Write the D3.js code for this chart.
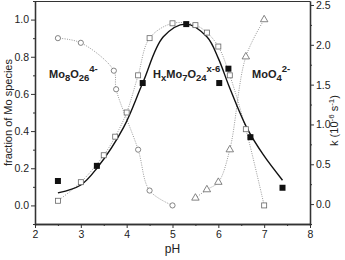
<!DOCTYPE html>
<html>
<head>
<meta charset="utf-8">
<script src="https://cdn.jsdelivr.net/npm/d3@7"></script>
<style>
  body { margin: 0; background: #fff; }
  text { font-family: "Liberation Sans", Arial, sans-serif; fill: #222; }
</style>
</head>
<body>
<div id="chart"></div>
<script>
// fraction of Mo species (left axis)
var octaPH   = [2.5, 3.0, 3.72, 3.77, 4.25, 4.5, 5.0];
var octaFrac = [0.90, 0.875, 0.725, 0.625, 0.30, 0.08, 0.0];

var heptaPH   = [2.5, 3.0, 3.5, 3.75, 4.0, 4.25, 4.5, 5.0, 5.5, 5.75, 6.0, 6.25, 6.6, 7.0];
var heptaFrac = [0.025, 0.125, 0.27, 0.37, 0.50, 0.70, 0.90, 0.98, 0.97, 0.93, 0.855, 0.70, 0.41, 0.0];

var molyPH   = [5.5, 5.75, 6.0, 6.25, 6.6, 7.0];
var molyFrac = [0.04, 0.085, 0.125, 0.30, 0.80, 1.0];

// rate constant k (right axis)
var kPH  = [2.5, 3.35, 4.35, 5.3, 6.02, 6.22, 6.7, 7.4];
var kVal = [0.29, 0.48, 1.52, 2.26, 1.52, 1.70, 0.84, 0.205];

// fitted curve
var fitPH = [2.5, 3.0, 3.35, 3.93, 4.35, 4.8, 5.29, 5.75, 6.0, 6.24, 6.62, 6.98, 7.4];
var fitK  = [0.14, 0.24, 0.45, 0.96, 1.52, 2.10, 2.26, 2.10, 1.83, 1.47, 0.96, 0.62, 0.30];

var xTicks = [2, 3, 4, 5, 6, 7, 8];
var yTicks = [0.0, 0.2, 0.4, 0.6, 0.8, 1.0];
var kTicks = [0.0, 0.5, 1.0, 1.5, 2.0, 2.5];

var W = 345, H = 260;
var m = {left: 35, right: 35, top: 1, bottom: 36};

var svg = d3.select('#chart').append('svg')
  .attr('width', W).attr('height', H);

var x = d3.scaleLinear().domain([2, 8]).range([m.left, W - m.right]);
var y = d3.scaleLinear().domain([-0.1, 1.1]).range([H - m.bottom, m.top]);
var yk = d3.scaleLinear().domain([-0.25, 2.55]).range([H - m.bottom, m.top]);

// frame top line
svg.append('line')
  .attr('x1', x(2)).attr('x2', x(8))
  .attr('y1', m.top + 0.5).attr('y2', m.top + 0.5)
  .attr('stroke', '#333').attr('stroke-width', 1);

// axes
function styleAxis(g) {
  g.selectAll('path').attr('stroke', '#333').attr('stroke-width', 1.3);
  g.selectAll('line').attr('stroke', '#333');
  g.selectAll('text').attr('font-size', 10.5).attr('fill', '#333')
    .style('font-family', '"Liberation Sans", Arial, sans-serif');
}

var xMinor = d3.range(2.5, 8, 1);
svg.append('g').attr('transform', 'translate(0,' + (H - m.bottom) + ')')
  .call(d3.axisBottom(x).tickValues(xMinor).tickSize(2).tickFormat(''))
  .call(styleAxis);
svg.append('g').attr('transform', 'translate(0,' + (H - m.bottom) + ')')
  .call(d3.axisBottom(x).tickValues(xTicks).tickSize(4).tickSizeOuter(0).tickPadding(3)
    .tickFormat(d3.format('d')))
  .call(styleAxis);

var yMinor = d3.range(-0.1, 1.1, 0.2);
svg.append('g').attr('transform', 'translate(' + m.left + ',0)')
  .call(d3.axisLeft(y).tickValues(yMinor).tickSize(2).tickFormat('').tickSizeOuter(0))
  .call(styleAxis);
svg.append('g').attr('transform', 'translate(' + m.left + ',0)')
  .call(d3.axisLeft(y).tickValues(yTicks).tickSize(4).tickSizeOuter(0).tickPadding(2)
    .tickFormat(d3.format('.1f')))
  .call(styleAxis);

var kMinor = d3.range(-0.25, 2.55, 0.5);
svg.append('g').attr('transform', 'translate(' + (W - m.right) + ',0)')
  .call(d3.axisRight(yk).tickValues(kMinor).tickSize(2).tickFormat('').tickSizeOuter(0))
  .call(styleAxis);
svg.append('g').attr('transform', 'translate(' + (W - m.right) + ',0)')
  .call(d3.axisRight(yk).tickValues(kTicks).tickSize(4).tickSizeOuter(0).tickPadding(2)
    .tickFormat(d3.format('.1f')))
  .call(styleAxis);

// dotted connecting lines
function dotted(px, py, sc) {
  var pts = px.map(function(d, i){ return [d, py[i]]; });
  svg.append('path')
    .datum(pts)
    .attr('d', d3.line().x(function(d){ return x(d[0]); }).y(function(d){ return sc(d[1]); })
      .curve(d3.curveCatmullRom.alpha(0.5)))
    .attr('fill', 'none')
    .attr('stroke', '#999')
    .attr('stroke-width', 1)
    .attr('stroke-dasharray', '1,1.3');
  return pts;
}

var octa = dotted(octaPH, octaFrac, y);
var hepta = dotted(heptaPH, heptaFrac, y);
var moly = dotted(molyPH, molyFrac, y);

// fitted curve
var fit = fitPH.map(function(d, i){ return [d, fitK[i]]; });
svg.append('path')
  .datum(fit)
  .attr('d', d3.line().x(function(d){ return x(d[0]); }).y(function(d){ return yk(d[1]); })
    .curve(d3.curveCatmullRom.alpha(0.5)))
  .attr('fill', 'none')
  .attr('stroke', '#111')
  .attr('stroke-width', 1.4);

// symbols
svg.selectAll('.octa').data(octa).enter().append('circle')
  .attr('cx', function(d){ return x(d[0]); })
  .attr('cy', function(d){ return y(d[1]); })
  .attr('r', 2.6)
  .attr('fill', '#fff').attr('stroke', '#666').attr('stroke-width', 0.8);

svg.selectAll('.hepta').data(hepta).enter().append('rect')
  .attr('x', function(d){ return x(d[0]) - 2.5; })
  .attr('y', function(d){ return y(d[1]) - 2.5; })
  .attr('width', 5).attr('height', 5)
  .attr('fill', '#fff').attr('stroke', '#666').attr('stroke-width', 0.8);

svg.selectAll('.moly').data(moly).enter().append('path')
  .attr('transform', function(d){ return 'translate(' + x(d[0]) + ',' + y(d[1]) + ')'; })
  .attr('d', d3.symbol().type(d3.symbolTriangle).size(24))
  .attr('fill', '#fff').attr('stroke', '#666').attr('stroke-width', 0.8);

var kPts = kPH.map(function(d, i){ return [d, kVal[i]]; });
svg.selectAll('.kpt').data(kPts).enter().append('rect')
  .attr('x', function(d){ return x(d[0]) - 3; })
  .attr('y', function(d){ return yk(d[1]) - 3; })
  .attr('width', 6).attr('height', 6)
  .attr('fill', '#111');

// species labels
function label(tx, ty, parts) {
  var t = svg.append('text').attr('x', tx).attr('y', ty)
    .attr('font-size', 11).attr('font-weight', 'bold').attr('fill', '#111');
  parts.forEach(function(p){
    t.append('tspan').attr('dy', p[1]).attr('font-size', p[2] || 11).text(p[0]);
  });
}
label(49, 78, [['Mo', 0], ['8', 3, 9.5], ['O', -3], ['26', 3, 9.5], ['4-', -9, 9.5]]);
label(153, 78, [['H', 0], ['x', 3, 9.5], ['Mo', -3], ['7', 3, 9.5], ['O', -3], ['24', 3, 9.5], ['x-6', -9, 9.5]]);
label(252, 78, [['MoO', 0], ['4', 3, 9.5], ['2-', -9, 9.5]]);

// axis titles
svg.append('text')
  .attr('transform', 'translate(12,' + y(0.5) + ') rotate(-90)')
  .attr('text-anchor', 'middle').attr('font-size', 11)
  .text('fraction of Mo species');

var kt = svg.append('text')
  .attr('transform', 'translate(338,' + yk(1.05) + ') rotate(-90)')
  .attr('text-anchor', 'middle').attr('font-size', 11);
kt.append('tspan').text('k (10');
kt.append('tspan').attr('dy', -4).attr('font-size', 8).text('-6');
kt.append('tspan').attr('dy', 4).text(' s');
kt.append('tspan').attr('dy', -4).attr('font-size', 8).text('-1');
kt.append('tspan').attr('dy', 4).text(')');

svg.append('text')
  .attr('x', x(5)).attr('y', 253)
  .attr('text-anchor', 'middle').attr('font-size', 12)
  .text('pH');
</script>
</body>
</html>
